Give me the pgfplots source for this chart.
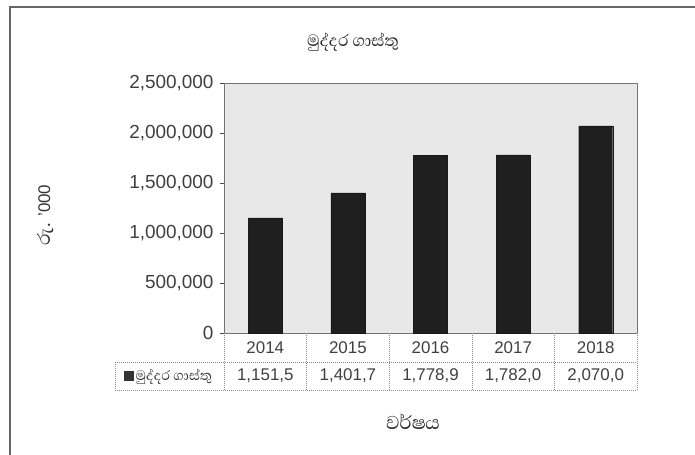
\documentclass[border=0pt]{standalone}
\usepackage{fontspec}
\setmainfont{Liberation Sans}
\newfontfamily\sinhala[Script=Sinhala]{Abhaya Libre}
\usepackage{pgfplots}
\pgfplotsset{compat=1.18}
\begin{document}
\begin{tikzpicture}[x=1bp,y=1bp]
\useasboundingbox (0,0) rectangle (695,455);
% frame of the scanned chart (only left and top edges visible)
\draw[black!60, line width=1.2bp] (10,0) -- (10,448) -- (695,448);
\node[font=\sinhala\fontsize{21}{24}\selectfont, text=black!85] at (353,413) {මුද්දර ගාස්තු};
\node[rotate=90, font=\fontsize{17}{20}\selectfont, text=black!80] at (45,240) {{\sinhala\fontsize{23}{24}\selectfont රු.} '000};
\node[font=\sinhala\fontsize{24}{26}\selectfont, text=black!85] at (413,33) {වර්ෂය};
\begin{axis}[
  at={(224bp,122bp)}, anchor=south west,
  width=413bp, height=250bp, scale only axis,
  xmin=-0.5, xmax=4.5, ymin=0, ymax=2500000,
  ytick={0,500000,1000000,1500000,2000000,2500000},
  ytick pos=left,
  scaled y ticks=false,
  ticklabel style={font=\fontsize{19}{21}\selectfont, text=black!75},
  yticklabel style={xshift=-3bp, /pgf/number format/.cd, fixed, 1000 sep={,}, assume math mode=true},
  xtick=data, xticklabels={2014,2015,2016,2017,2018},
  xticklabel style={font=\fontsize{17}{20}\selectfont, yshift=-1bp},
  x tick style={draw=none},
  y tick style={black!70},
  tick align=outside, major tick length=4bp,
  axis line style={black!55},
  axis background/.style={fill=black!9},
  clip=false,
  legend style={at={(-0.133,-0.172)}, anchor=center, draw=none, fill=none,
    font=\sinhala\fontsize{17.5}{19}\selectfont, text=black!80, inner sep=0pt},
  legend image code/.code={\fill[black!80] (0bp,-4.5bp) rectangle (9bp,4.5bp);},
]
\addplot[ybar, bar width=34bp, fill=black!88, draw=black!90] coordinates {
  (0,1151500) (1,1401700) (2,1778900) (3,1782000) (4,2070000)
};
\legend{මුද්දර ගාස්තු}
\end{axis}
% data table under the axis
\begin{scope}[black!45, line width=0.6bp, dash pattern=on 1bp off 1bp]
\foreach \k in {0,...,5} \draw (224+82.6*\k,122) -- (224+82.6*\k,65);
\draw (115,93) -- (637,93);
\draw (115,65) -- (637,65);
\draw (115,93) -- (115,65);
\end{scope}
\foreach \v [count=\i from 0] in {{1,151,5},{1,401,7},{1,778,9},{1,782,0},{2,070,0}}
  \node[font=\fontsize{17}{20}\selectfont, text=black!75] at (224+82.6*\i+41.3,79) {\v};
\end{tikzpicture}
\end{document}
